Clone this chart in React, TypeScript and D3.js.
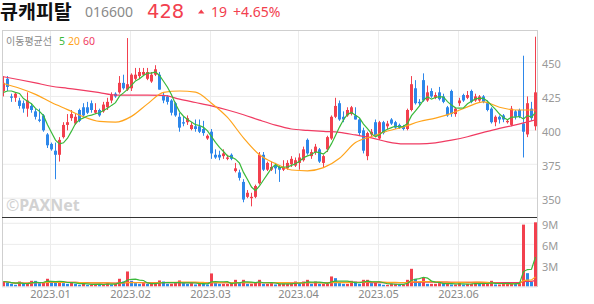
import React from "react";
import * as d3 from "d3";

// ---- data ----
const opens = [
  429, 438, 425, 424, 422, 420, 416, 418, 414, 408, 411, 397, 390, 385, 382, 395, 404, 409, 405, 415,
  417, 417, 420, 413, 415, 414, 417, 422, 427, 428, 435, 430, 431, 438, 440, 441, 438, 436, 441, 441,
  426, 425, 422, 420, 410, 406, 406, 401, 403, 403, 401, 394, 399, 382, 382, 381, 379, 382, 370, 369,
  362, 351, 350, 351, 361, 382, 371, 371, 374, 373, 371, 372, 375, 374, 376, 378, 393, 381, 384, 386,
  376, 386, 394, 410, 420, 410, 411, 412, 411, 408, 400, 381, 397, 406, 394, 406, 403, 408, 406, 404,
  403, 401, 415, 431, 421, 437, 422, 429, 424, 428, 425, 417, 429, 412, 420, 426, 424, 429, 422, 422,
  425, 420, 416, 406, 410, 411, 406, 404, 414, 415, 405, 397, 416, 403,
];
const highs = [
  440, 440, 427, 428, 424, 422, 428, 420, 416, 416, 412, 398, 391, 391, 395, 406, 412, 415, 412, 416,
  420, 421, 422, 420, 416, 421, 424, 428, 428, 440, 441, 468, 442, 446, 446, 446, 446, 443, 448, 443,
  428, 426, 423, 421, 413, 410, 411, 406, 408, 408, 407, 397, 401, 386, 385, 386, 382, 383, 376, 371,
  364, 356, 354, 360, 384, 384, 377, 377, 376, 374, 378, 378, 381, 380, 383, 388, 394, 386, 390, 387,
  382, 396, 411, 424, 422, 414, 417, 418, 417, 409, 402, 399, 401, 408, 407, 407, 407, 409, 407, 405,
  404, 416, 440, 437, 423, 442, 433, 431, 428, 432, 427, 418, 430, 417, 424, 427, 429, 430, 427, 426,
  426, 422, 417, 411, 411, 412, 408, 418, 415, 416, 455, 425, 421, 469,
];
const lows = [
  425, 429, 421, 421, 416, 413, 410, 413, 408, 406, 399, 387, 385, 364, 377, 394, 400, 407, 404, 406,
  410, 412, 413, 412, 410, 413, 415, 420, 424, 427, 430, 429, 429, 437, 438, 440, 437, 435, 440, 430,
  420, 419, 411, 410, 399, 403, 404, 400, 399, 398, 396, 393, 379, 379, 378, 379, 378, 378, 369, 363,
  347, 350, 344, 350, 360, 370, 370, 370, 368, 362, 370, 371, 373, 373, 371, 377, 382, 379, 382, 376,
  373, 384, 393, 409, 407, 406, 410, 411, 408, 396, 383, 378, 395, 395, 393, 397, 401, 404, 401, 401,
  400, 400, 414, 419, 418, 421, 421, 424, 423, 422, 420, 410, 410, 410, 418, 421, 423, 420, 421, 421,
  420, 414, 405, 403, 405, 406, 405, 403, 408, 409, 380, 395, 407, 400,
];
const closes = [
  435, 432, 424, 427, 418, 416, 422, 415, 410, 407, 400, 389, 386, 382, 393, 404, 406, 412, 410, 407,
  411, 413, 415, 415, 411, 419, 421, 426, 425, 435, 431, 434, 441, 441, 443, 443, 443, 441, 445, 430,
  422, 421, 413, 411, 402, 405, 409, 404, 401, 399, 398, 396, 383, 380, 380, 383, 380, 379, 372, 365,
  349, 354, 351, 359, 382, 371, 376, 373, 372, 371, 373, 376, 379, 378, 380, 386, 383, 384, 388, 377,
  381, 395, 410, 418, 408, 408, 415, 417, 408, 398, 385, 398, 399, 396, 406, 398, 405, 405, 402, 402,
  401, 415, 434, 420, 420, 422, 428, 425, 426, 423, 421, 411, 412, 416, 422, 422, 426, 421, 425, 425,
  421, 415, 406, 410, 408, 408, 407, 416, 410, 410, 399, 420, 409, 428,
];
// volume, in millions of shares
const volumes = [
  0.71, 0.57, 0.38, 0.24, 0.71, 0.38, 0.38, 0.81, 0.8, 0.48, 0.57, 1.1, 0.71, 0.57, 0.71, 0.48, 0.38, 0.57, 0.38, 0.24,
  0.48, 0.24, 0.24, 0.38, 0.29, 0.29, 0.48, 0.29, 0.38, 1.1, 0.71, 2.14, 0.81, 0.48, 0.38, 0.48, 0.38, 0.38, 0.38, 0.86,
  0.71, 0.38, 0.38, 0.48, 0.86, 0.48, 0.38, 0.48, 0.29, 0.48, 0.38, 0.29, 1.86, 0.48, 0.38, 0.38, 0.38, 0.48, 0.95, 0.48,
  0.95, 0.38, 0.38, 0.57, 0.95, 0.38, 0.38, 0.48, 0.29, 0.38, 0.38, 0.38, 0.48, 0.71, 0.38, 0.71, 0.95, 0.38, 0.71, 0.38,
  0.38, 0.38, 1.43, 1.19, 0.48, 0.38, 0.38, 0.81, 0.71, 0.38, 0.95, 0.95, 0.48, 0.62, 0.38, 0.24, 0.24, 0.38, 0.38, 0.29,
  0.29, 0.95, 2.52, 1.1, 0.71, 1.29, 0.38, 0.38, 0.38, 0.48, 0.38, 0.48, 0.29, 0.29, 0.48, 0.29, 0.38, 0.38, 0.62, 0.38,
  0.38, 0.38, 0.81, 0.29, 0.29, 0.38, 0.48, 0.48, 0.38, 0.48, 8.81, 1.9, 0.7, 9.14,
];
// moving-average lines (index -> value)
const ma5Head = [428, 429, 429, 428];
const maIdx = [0, 4, 8, 12, 16, 20, 24, 28, 32, 36, 40, 44, 48, 52, 56, 60, 64, 68, 72, 76, 80, 84, 88, 92, 96, 100, 104, 108, 112, 116, 120, 124, 128, 132, 133];
const ma20Vals = [434.5, 431, 426.5, 420.5, 415.3, 410, 406.6, 406, 410.3, 419.5, 428, 429, 428.2, 420, 409.5, 394.5, 382, 375.5, 370.8, 370.2, 372.5, 379.5, 391, 395.5, 399.5, 402.5, 406.5, 409, 412.5, 417.3, 421, 417, 415, 415, 415];
const ma60Vals = [439.5, 437.3, 435, 432.5, 431, 429.5, 427.8, 426, 426, 426, 425.8, 423, 420.5, 418, 415, 411.5, 407.5, 403.8, 401, 400, 399.2, 398.5, 396.6, 394.5, 391.5, 390, 390, 390.8, 392.8, 395.3, 398.5, 401.5, 404, 407, 407.8];

const priceTicks = [350, 375, 400, 425, 450];
const volTicks = [3, 6, 9];
const volTickLabels = ["3M", "6M", "9M"];
const monthLabels = ["2023.01", "2023.02", "2023.03", "2023.04", "2023.05", "2023.06"];
const monthStart = [12, 32, 52, 74, 94, 114];

const RED = "#f2404e";
const BLUE = "#2d87ea";
const GREEN = "#3ab93a";
const ORANGE = "#ffa41c";
const PINK = "#f03b62";
const FONT = "'Noto Sans', 'Noto Sans CJK KR', sans-serif";
const KFONT = "'Noto Sans CJK KR', 'Noto Sans', sans-serif";
const TITLE_FONT = "'DejaVu Sans', 'Noto Sans CJK KR', sans-serif";

function movingAvg(vals: number[], n: number): number[] {
  return vals.map((_, i) => {
    const s = vals.slice(Math.max(0, i - n + 1), i + 1);
    return d3.mean(s) as number;
  });
}

export default function App() {
  const n = closes.length;
  const x = d3.scaleBand<number>().domain(d3.range(n)).range([1.5, 537.5]);
  const step = x.step();
  const xc = (i: number) => (x(i) as number) + step / 2;
  const yP = d3.scaleLinear().domain([350, 450]).range([198.2, 62.5]);
  const yV = d3.scaleLinear().domain([0, 9]).range([286.5, 223.3]);

  const ma5 = closes.map((_, i) => (i < 4 ? ma5Head[i] : (d3.mean(closes.slice(i - 4, i + 1)) as number)));
  const line = d3.line<[number, number]>().x((d) => d[0]).y((d) => d[1]);
  const smooth = d3.line<[number, number]>().x((d) => d[0]).y((d) => d[1]).curve(d3.curveMonotoneX);
  const ma5Path = line(ma5.map((v, i) => [xc(i), yP(v)]));
  const ma20Path = smooth(maIdx.map((i, k) => [xc(i), yP(ma20Vals[k])]));
  const ma60Path = smooth(maIdx.map((i, k) => [xc(i), yP(ma60Vals[k])]));

  const v5 = movingAvg(volumes, 5);
  const v20 = movingAvg(volumes, 20);
  const v60 = movingAvg(volumes, 60);
  const vPath = (arr: number[]) => line(arr.map((v, i) => [xc(i), yV(v)]));

  const gx = (i: number) => Math.round(x(i) as number) + 0.5;

  return (
    <svg width={594} height={304} style={{ position: "absolute", left: 0, top: 0, background: "#fff" }}>
      <defs>
        <clipPath id="pricePane">
          <rect x={2} y={30} width={535} height={187} />
        </clipPath>
        <clipPath id="volPane">
          <rect x={2} y={217} width={535} height={70} />
        </clipPath>
      </defs>

      {/* header */}
      <text x={0} y={18.5} fontFamily={TITLE_FONT} fontWeight={700} fontSize={19.5} fill="#111">큐캐피탈</text>
      <text x={85} y={17} fontFamily={FONT} fontSize={14} fill="#8a8a8a">016600</text>
      <text x={147} y={18.3} fontFamily="'DejaVu Sans', sans-serif" fontSize={19.5} fill={RED}>428</text>
      <path d="M198,13.5 L201.2,9.5 L204.4,13.5 Z" fill={RED} />
      <text x={211} y={17} fontFamily={FONT} fontSize={14} fill={RED}>19</text>
      <text x={233} y={17} fontFamily={FONT} fontSize={14} fill={RED}>+4.65%</text>

      {/* grid */}
      {priceTicks.map((t) => (
        <line key={"hp" + t} x1={2} x2={537} y1={yP(t)} y2={yP(t)} stroke="#ececec" />
      ))}
      {volTicks.map((t) => (
        <line key={"hv" + t} x1={2} x2={537} y1={yV(t)} y2={yV(t)} stroke="#ececec" />
      ))}
      {monthStart.map((i) => (
        <line key={"vg" + i} x1={gx(i)} x2={gx(i)} y1={30} y2={287} stroke="#ececec" />
      ))}

      {/* watermark */}
      <text x={6} y={211} fontFamily={FONT} fontWeight={700} fontSize={16} fill="#d2d2d2">
        <tspan fontWeight={400}>©</tspan>PAXNet
      </text>

      {/* legend */}
      <text x={6} y={45} fontFamily={KFONT} fontSize={10} fill="#8a8a8a">이동평균선</text>
      <text x={59} y={45} fontFamily={FONT} fontSize={10.5} fill={GREEN}>5</text>
      <text x={68} y={45} fontFamily={FONT} fontSize={10.5} fill={ORANGE}>20</text>
      <text x={83} y={45} fontFamily={FONT} fontSize={10.5} fill={PINK}>60</text>

      {/* candles */}
      <g clipPath="url(#pricePane)">
        {closes.map((c, i) => {
          const o = opens[i];
          const up = c >= o;
          const col = up ? RED : BLUE;
          const top = yP(Math.max(o, c));
          const bot = yP(Math.min(o, c));
          return (
            <g key={"c" + i}>
              <line x1={xc(i)} x2={xc(i)} y1={yP(highs[i])} y2={yP(lows[i])} stroke={col} strokeWidth={1} />
              <rect x={xc(i) - 1.5} y={top} width={3} height={Math.max(1, bot - top)} fill={col} />
            </g>
          );
        })}
        <path d={ma60Path || ""} fill="none" stroke={PINK} strokeWidth={1.2} />
        <path d={ma20Path || ""} fill="none" stroke={ORANGE} strokeWidth={1.2} />
        <path d={ma5Path || ""} fill="none" stroke={GREEN} strokeWidth={1.2} />
      </g>

      {/* volume */}
      <g clipPath="url(#volPane)">
        {volumes.map((v, i) => {
          const col = i === 0 || v >= volumes[i - 1] ? RED : BLUE;
          return (
            <rect key={"v" + i} x={xc(i) - 1.5} y={yV(v)} width={3} height={yV(0) - yV(v)} fill={col} />
          );
        })}
        <path d={vPath(v60) || ""} fill="none" stroke={PINK} strokeWidth={1.2} />
        <path d={vPath(v20) || ""} fill="none" stroke={ORANGE} strokeWidth={1.2} />
        <path d={vPath(v5) || ""} fill="none" stroke={GREEN} strokeWidth={1.2} />
      </g>

      {/* frame */}
      <line x1={2} x2={537} y1={30.5} y2={30.5} stroke="#cfcfcf" />
      <line x1={2.5} x2={2.5} y1={30} y2={287} stroke="#cfcfcf" />
      <line x1={537.5} x2={537.5} y1={30} y2={287} stroke="#cfcfcf" />
      <line x1={2} x2={537} y1={217.5} y2={217.5} stroke="#333" />
      <line x1={2} x2={537} y1={287} y2={287} stroke="#e4e4e4" />

      {/* right axes */}
      {priceTicks.map((t) => (
        <text key={"pt" + t} x={542} y={yP(t) + 5.7} fontFamily={FONT} fontSize={11} fill="#999">{t}</text>
      ))}
      {volTicks.map((t, k) => (
        <text key={"vt" + t} x={542} y={yV(t) + 5.3} fontFamily={FONT} fontSize={11} fill="#999">{volTickLabels[k]}</text>
      ))}

      {/* date labels */}
      {monthStart.map((i, k) => (
        <text key={"ml" + i} x={gx(i)} y={297.5} textAnchor="middle" fontFamily={FONT} fontSize={11} fill="#888">
          {monthLabels[k]}
        </text>
      ))}
    </svg>
  );
}
